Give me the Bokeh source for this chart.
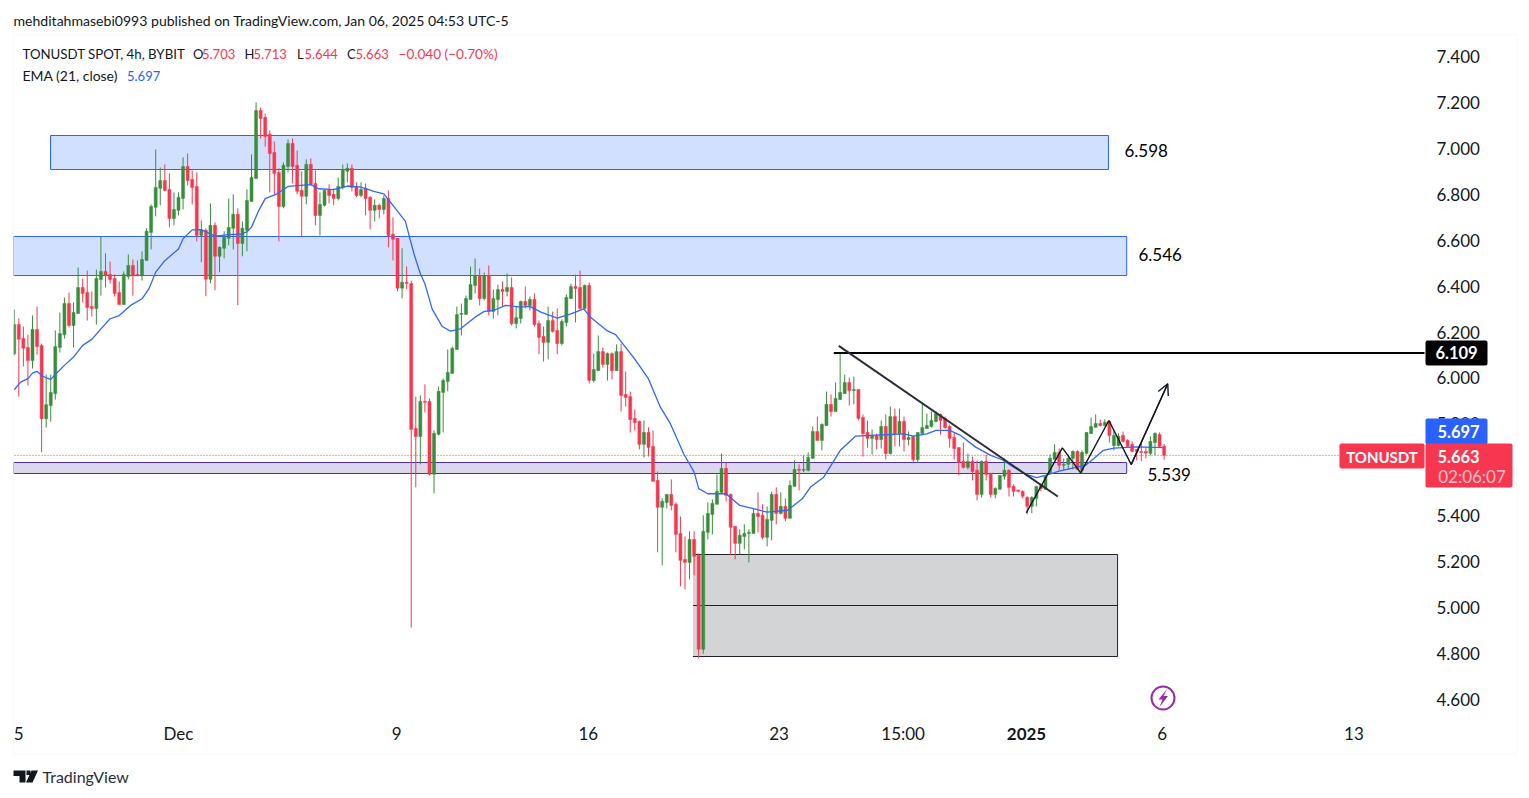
from bokeh.plotting import figure
from bokeh.models import (Range1d, FixedTicker, NumeralTickFormatter, Label, BoxAnnotation,
                          PolyAnnotation, Arrow, OpenHead, ColumnDataSource)
from bokeh.embed import file_html
from bokeh.resources import INLINE

opens = [6.106,6.233,6.172,6.133,6.076,6.211,6.141,5.823,5.880,5.932,
6.133,6.189,6.324,6.229,6.281,6.394,6.372,6.311,6.303,6.429,
6.464,6.451,6.433,6.372,6.320,6.442,6.490,6.451,6.445,6.512,
6.634,6.743,6.826,6.860,6.821,6.695,6.730,6.782,6.921,6.865,
6.834,6.621,6.643,6.430,6.665,6.530,6.565,6.608,6.652,6.713,
6.586,6.643,6.769,6.869,7.165,7.135,7.061,6.982,6.895,6.747,
6.921,7.021,6.926,6.817,6.791,6.930,6.847,6.708,6.752,6.821,
6.800,6.782,6.830,6.900,6.913,6.834,6.795,6.826,6.787,6.730,
6.752,6.734,6.782,6.626,6.608,6.391,6.417,6.411,5.780,5.745,
5.898,5.898,5.581,5.755,5.937,5.985,6.020,6.124,6.277,6.277,
6.342,6.403,6.446,6.346,6.446,6.290,6.342,6.385,6.377,6.394,
6.237,6.259,6.333,6.316,6.342,6.237,6.181,6.155,6.250,6.207,
6.150,6.242,6.346,6.398,6.394,6.303,6.403,5.989,6.032,6.115,
6.059,6.106,6.032,6.115,5.928,5.919,5.824,5.811,5.711,5.763,
5.702,5.554,5.437,5.458,5.493,5.450,5.323,5.210,5.197,5.297,
5.228,4.819,5.328,5.406,5.450,5.502,5.606,5.493,5.354,5.280,
5.310,5.323,5.323,5.410,5.402,5.306,5.380,5.493,5.410,5.441,
5.389,5.528,5.602,5.598,5.598,5.650,5.767,5.728,5.793,5.885,
5.854,5.906,5.932,5.980,5.945,5.950,5.828,5.763,5.737,5.750,
5.732,5.789,5.671,5.832,5.758,5.811,5.732,5.745,5.645,5.758,
5.780,5.789,5.811,5.841,5.824,5.789,5.741,5.697,5.637,5.611,
5.637,5.598,5.493,5.637,5.585,5.493,5.515,5.572,5.598,5.528,
5.511,5.506,5.480,5.441,5.476,5.533,5.515,5.585,5.646,5.676,
5.620,5.624,5.650,5.680,5.598,5.672,5.758,5.785,5.802,5.793,
5.811,5.706,5.706,5.750,5.728,5.711,5.689,5.680,5.680,5.672,
5.719,5.754,5.703]
highs = [6.298,6.259,6.224,6.189,6.272,6.311,6.150,6.015,6.015,6.207,
6.285,6.350,6.372,6.329,6.481,6.433,6.468,6.377,6.472,6.616,
6.542,6.507,6.451,6.420,6.464,6.538,6.516,6.512,6.551,6.652,
6.756,6.995,6.917,6.930,6.891,6.808,6.808,6.961,6.978,6.904,
6.895,6.686,6.652,6.760,6.678,6.573,6.639,6.782,6.800,6.739,
6.682,6.821,6.974,7.200,7.178,7.152,7.078,7.030,6.913,6.939,
7.039,7.043,6.991,6.900,6.952,6.956,6.904,6.808,6.821,6.843,
6.826,6.873,6.930,6.934,6.930,6.852,6.852,6.847,6.791,6.778,
6.760,6.795,6.817,6.699,6.608,6.565,6.486,6.424,5.919,5.924,
5.972,5.911,5.772,5.963,5.998,6.124,6.137,6.311,6.324,6.359,
6.485,6.520,6.477,6.459,6.490,6.385,6.407,6.420,6.455,6.438,
6.311,6.337,6.398,6.355,6.368,6.250,6.224,6.311,6.290,6.303,
6.255,6.364,6.411,6.451,6.468,6.407,6.416,6.106,6.185,6.133,
6.111,6.111,6.146,6.150,6.028,5.941,5.863,5.815,5.815,5.785,
5.772,5.593,5.476,5.493,5.558,5.458,5.397,5.310,5.332,5.332,
5.236,5.402,5.458,5.471,5.580,5.671,5.632,5.497,5.354,5.341,
5.363,5.341,5.432,5.502,5.450,5.441,5.506,5.524,5.502,5.476,
5.554,5.641,5.624,5.663,5.676,5.789,5.832,5.802,5.941,5.928,
5.980,6.111,6.015,6.002,6.006,5.950,5.841,5.815,5.776,5.758,
5.815,5.841,5.876,5.867,5.867,5.832,5.767,5.750,5.763,5.889,
5.845,5.854,5.854,5.845,5.832,5.797,5.763,5.697,5.719,5.671,
5.658,5.641,5.641,5.667,5.585,5.524,5.576,5.650,5.602,5.537,
5.515,5.511,5.485,5.485,5.528,5.533,5.572,5.667,5.711,5.693,
5.650,5.667,5.685,5.685,5.685,5.763,5.828,5.841,5.820,5.820,
5.815,5.772,5.759,5.767,5.733,5.724,5.689,5.715,5.698,5.746,
5.763,5.763,5.713]
lows = [6.098,5.919,6.050,5.967,6.041,6.102,5.677,5.784,5.810,5.906,
6.111,6.172,6.220,6.133,6.281,6.329,6.250,6.268,6.233,6.359,
6.394,6.411,6.355,6.320,6.320,6.429,6.359,6.445,6.424,6.512,
6.560,6.704,6.752,6.813,6.656,6.665,6.708,6.734,6.839,6.756,
6.595,6.504,6.356,6.412,6.382,6.460,6.521,6.578,6.560,6.317,
6.530,6.552,6.769,6.869,7.043,7.008,6.808,6.800,6.595,6.739,
6.895,6.847,6.800,6.613,6.756,6.843,6.665,6.621,6.747,6.760,
6.752,6.773,6.821,6.852,6.813,6.787,6.787,6.708,6.647,6.682,
6.695,6.713,6.569,6.512,6.378,6.347,6.386,4.913,5.524,5.624,
5.850,5.576,5.498,5.750,5.763,5.942,6.020,6.124,6.185,6.277,
6.342,6.368,6.316,6.338,6.272,6.259,6.272,6.311,6.355,6.229,
6.216,6.237,6.303,6.294,6.224,6.103,6.072,6.081,6.198,6.103,
6.142,6.224,6.346,6.242,6.298,6.294,5.976,5.980,6.032,6.045,
5.989,5.993,6.032,5.854,5.876,5.763,5.771,5.689,5.654,5.658,
5.550,5.241,5.184,5.432,5.424,5.241,5.093,5.080,5.123,5.141,
4.779,4.799,5.297,5.319,5.450,5.497,5.463,5.228,5.210,5.232,
5.254,5.197,5.323,5.328,5.297,5.267,5.293,5.363,5.406,5.376,
5.389,5.528,5.511,5.589,5.593,5.650,5.728,5.684,5.793,5.832,
5.854,5.906,5.932,5.880,5.885,5.815,5.658,5.697,5.667,5.689,
5.693,5.645,5.667,5.702,5.702,5.680,5.706,5.628,5.631,5.758,
5.780,5.784,5.806,5.754,5.780,5.697,5.645,5.576,5.606,5.602,
5.554,5.467,5.480,5.554,5.480,5.476,5.515,5.558,5.484,5.484,
5.502,5.476,5.406,5.411,5.441,5.506,5.515,5.585,5.646,5.598,
5.598,5.602,5.602,5.602,5.585,5.667,5.758,5.785,5.789,5.789,
5.719,5.685,5.702,5.719,5.702,5.680,5.641,5.637,5.650,5.663,
5.663,5.698,5.644]
closes = [6.233,6.169,6.130,6.076,6.211,6.137,5.823,5.884,5.937,6.137,
6.194,6.324,6.229,6.285,6.394,6.368,6.307,6.303,6.433,6.464,
6.445,6.429,6.368,6.320,6.451,6.490,6.445,6.445,6.516,6.639,
6.747,6.830,6.860,6.817,6.695,6.734,6.787,6.921,6.860,6.830,
6.621,6.643,6.430,6.665,6.530,6.569,6.613,6.656,6.713,6.586,
6.652,6.773,6.873,7.165,7.130,7.052,6.978,6.891,6.747,6.926,
7.021,6.921,6.813,6.791,6.930,6.843,6.708,6.756,6.817,6.795,
6.782,6.834,6.908,6.913,6.830,6.795,6.821,6.782,6.730,6.752,
6.734,6.782,6.621,6.604,6.391,6.417,6.412,5.776,5.745,5.898,
5.894,5.581,5.759,5.942,5.989,6.024,6.129,6.276,6.281,6.346,
6.407,6.446,6.346,6.446,6.290,6.346,6.385,6.377,6.394,6.237,
6.263,6.333,6.316,6.342,6.233,6.177,6.155,6.250,6.203,6.150,
6.246,6.351,6.398,6.390,6.303,6.403,5.990,6.037,6.115,6.059,
6.106,6.032,6.115,5.924,5.915,5.819,5.806,5.711,5.763,5.698,
5.550,5.437,5.463,5.493,5.445,5.319,5.206,5.197,5.297,5.223,
4.819,5.332,5.410,5.454,5.506,5.606,5.489,5.350,5.280,5.315,
5.323,5.328,5.410,5.397,5.306,5.384,5.493,5.410,5.441,5.389,
5.532,5.602,5.598,5.602,5.654,5.767,5.728,5.798,5.885,5.854,
5.911,5.937,5.980,5.945,5.950,5.824,5.758,5.737,5.750,5.732,
5.789,5.671,5.832,5.758,5.811,5.732,5.741,5.645,5.763,5.784,
5.793,5.815,5.845,5.815,5.784,5.737,5.693,5.632,5.611,5.637,
5.593,5.493,5.637,5.580,5.493,5.519,5.576,5.598,5.524,5.506,
5.506,5.485,5.441,5.480,5.528,5.519,5.572,5.650,5.676,5.620,
5.624,5.650,5.680,5.602,5.676,5.763,5.789,5.802,5.793,5.807,
5.750,5.750,5.746,5.724,5.702,5.680,5.680,5.676,5.673,5.724,
5.759,5.702,5.663]

ema_idx = [0,1.4,3,4,5,6,7,8,9,11,13,15,17,19,21,23,25.5,28,29.5,31,33,36,37,39,41,42,44,47,49.6,
51,52,53.6,55,57.6,60,62.7,65,66.7,70,73,76,78.8,81,83,85.7,87.6,89,90,91.6,93.8,95.6,97.8,
101,103,105,107.7,111,113,115.4,119,122,124.8,126.3,130,131.8,135.7,137,139,141.6,143.8,146.7,149,
150,152,156,159,162,165,169.5,172.7,174.5,177.4,181,184.4,187.7,192,195,197,200,202,205,207.4,210.7,
214,216.5,219,221.6,224,226,229,232.9,234.8,236.6,238.7,241,246,251.7]
ema_val = [5.949,5.982,5.997,6.021,6.029,6.011,6.001,5.994,6.015,6.055,6.091,6.142,6.168,6.214,6.258,6.272,6.316,6.345,6.388,6.461,6.511,6.562,6.606,6.645,6.646,6.636,6.618,6.624,6.626,
6.636,6.657,6.730,6.781,6.802,6.834,6.839,6.842,6.824,6.820,6.836,6.831,6.813,6.802,6.752,6.683,6.541,6.454,6.410,6.300,6.224,6.204,6.214,
6.265,6.290,6.294,6.316,6.309,6.312,6.287,6.261,6.279,6.301,6.265,6.205,6.189,6.090,6.054,5.996,5.873,5.801,5.670,5.590,
5.518,5.496,5.496,5.445,5.431,5.416,5.424,5.474,5.525,5.568,5.684,5.747,5.750,5.754,5.757,5.747,5.757,5.772,5.772,5.750,5.699,
5.663,5.644,5.612,5.581,5.566,5.576,5.594,5.612,5.620,5.649,5.685,5.695,5.700,5.697]

price_ticks = [4.6,4.8,5.0,5.2,5.4,5.6,5.8,6.0,6.2,6.4,6.6,6.8,7.0,7.2,7.4]
time_ticks = {1:"5",36:"Dec",83.8:"9",125.8:"16",167.6:"23",194.8:"15:00",222:"",251.6:"6",293.6:"13"}

# zones: left bar, right bar, bottom price, top price
zone_a = (7.95, 239.8, 6.9079, 7.0560)
zone_b = (-0.16, 243.8, 6.4463, 6.6162)
zone_p = (-0.16, 243.8, 5.5841, 5.6320)
zone_g = (148.75, 241.8, 4.7872, 5.2314)
gray_mid = 5.0093
res_level = 6.109
res_start = 179.6
down_x = [180.7, 228.7]
down_y = [6.140, 5.484]
zig_x = [221.8, 229.7, 233.7, 239.9, 244.8, 252.8]
zig_y = [5.413, 5.696, 5.587, 5.815, 5.623, 5.975]
last_price = 5.663
notes = [("6.598", 1124, 150), ("6.546", 1138, 254), ("5.539", 1147, 474)]

FONT = "Lato"
UP = "#388e3c"; DOWN = "#f7374f"; INK = "#131722"

X0, DX = 13.74, 4.563
P0, PY = 56.0, 229.64
W, H = 1522, 792
def ix(px): return (px - X0) / DX
def pr(py): return 7.4 - (py - P0) / PY

p = figure(width=W, height=H, output_backend="svg", toolbar_location=None,
           x_range=Range1d(ix(0), ix(W)), y_range=Range1d(pr(H), pr(0)),
           min_border_left=0, min_border_right=0, min_border_top=0, min_border_bottom=0,
           x_axis_location="below", y_axis_location="right")
p.outline_line_color = None
p.grid.visible = False
p.background_fill_color = "white"

ya = p.yaxis[0]
ya.ticker = FixedTicker(ticks=price_ticks)
ya.formatter = NumeralTickFormatter(format="0.000")
ya.fixed_location = ix(1419)
ya.axis_line_color = None
ya.major_tick_line_color = None
ya.minor_tick_line_color = None
ya.major_label_standoff = 11
ya.major_label_text_font = FONT
ya.major_label_text_font_size = "17px"
ya.major_label_text_color = INK

xa = p.xaxis[0]
xa.ticker = FixedTicker(ticks=list(time_ticks))
xa.major_label_overrides = time_ticks
xa.fixed_location = pr(710)
xa.axis_line_color = None
xa.major_tick_line_color = None
xa.minor_tick_line_color = None
xa.major_label_standoff = 6
xa.major_label_text_font = FONT
xa.major_label_text_font_size = "17px"
xa.major_label_text_color = INK

def zone(z, fill, line):
    p.quad(left=[z[0]], right=[z[1]], bottom=[z[2]], top=[z[3]], fill_color=fill, line_color=line, line_width=1)

zone(zone_a, "#d2e0ff", "#2962ff")
zone(zone_b, "#d2e0ff", "#2962ff")
zone(zone_p, "#dcd6ee", "#512da8")
p.quad(left=[zone_g[0]], right=[zone_g[1]], bottom=[zone_g[2]], top=[zone_g[3]], fill_color="#d3d4d6", line_color=None)
for lvl in (zone_g[2], gray_mid, zone_g[3]):
    p.line([zone_g[0], zone_g[1]], [lvl, lvl], line_color="#1f222b", line_width=1)
p.line([zone_g[1], zone_g[1]], [zone_g[2], zone_g[3]], line_color="#1f222b", line_width=1)

idx = list(range(len(opens)))
up = [i for i in idx if closes[i] >= opens[i]]
dn = [i for i in idx if closes[i] < opens[i]]
for ids, col in ((up, UP), (dn, DOWN)):
    src = ColumnDataSource(dict(x=ids, o=[opens[i] for i in ids], h=[highs[i] for i in ids],
                                l=[lows[i] for i in ids], c=[closes[i] for i in ids]))
    p.segment(x0="x", x1="x", y0="l", y1="h", source=src, line_color=col, line_width=1)
    p.vbar(x="x", width=0.66, bottom="o", top="c", source=src, fill_color=col, line_color=col, line_width=0.5)

p.line(ema_idx, ema_val, line_color="#2f67ff", line_width=1.3)

p.line([ix(14), ix(1339)], [last_price, last_price], line_color=DOWN, line_width=1, line_dash="1 2")

p.line([res_start, ix(1424)], [res_level, res_level], line_color="#000000", line_width=2)
p.line(down_x, down_y, line_color="#2a2e39", line_width=2)
p.line(zig_x, zig_y, line_color=INK, line_width=1.4)
p.add_layout(Arrow(end=OpenHead(size=11, line_color=INK, line_width=1.4), x_start=zig_x[-2], y_start=zig_y[-2],
                   x_end=zig_x[-1], y_end=zig_y[-1], line_color=INK, line_width=1.4))

def box(l, t, r, b, col, **kw):
    p.add_layout(BoxAnnotation(left=l, right=r, top=t, bottom=b, left_units="canvas", right_units="canvas",
                               top_units="canvas", bottom_units="canvas", fill_color=col, fill_alpha=1,
                               line_color=None, **kw))

def txt(s, x, y, size, col=INK, align="left", style="normal", alpha=1.0):
    p.add_layout(Label(x=x, y=y, x_units="canvas", y_units="canvas", text=s, text_font=FONT,
                       text_font_size=f"{size}px", text_color=col, text_align=align, text_baseline="middle",
                       text_font_style=style, text_alpha=alpha))

# left edge of the pane, then its frame
box(0, 30, 13, 760, "white")
p.add_layout(BoxAnnotation(left=13, right=1516, top=34, bottom=753.5, left_units="canvas", right_units="canvas",
                           top_units="canvas", bottom_units="canvas", fill_alpha=0, line_color="#f0f3fa", line_width=2))

# price tags
box(1425, 340, 1487, 365, "#000000", border_radius=2)
txt("6.109", 1456, 352, 16.5, "white", "center", "bold")
box(1425, 418, 1487, 444, "#2962ff", border_radius=2)
txt("5.697", 1458, 431, 16.5, "white", "center", "bold")
box(1339, 443, 1424, 468, DOWN, border_radius=2)
txt("TONUSDT", 1381.5, 456, 15, "white", "center", "bold")
box(1425, 443, 1512, 487, DOWN, border_radius=2)
txt("5.663", 1458, 456, 16.5, "white", "center", "bold")
txt("02:06:07", 1471.5, 476, 17, "white", "center", "normal", 0.7)

# annotations on the chart
for s, x, y in notes:
    txt(s, x, y, 17, "#000000")
txt("2025", 1026, 733.5, 17, INK, "center", "bold")

# header and legend
txt("mehditahmasebi0993 published on TradingView.com, Jan 06, 2025 04:53 UTC-5", 13, 20, 14.07)
txt("TONUSDT SPOT, 4h, BYBIT", 22, 53.5, 13.25)
for s, x, col, sz in [("O", 192.5, INK, 13), ("5.703", 201.5, DOWN, 13), ("H", 244, INK, 13), ("5.713", 253, DOWN, 13),
                      ("L", 296.5, INK, 13), ("5.644", 304, DOWN, 13), ("C", 346.5, INK, 13), ("5.663", 355, DOWN, 13),
                      ("\u22120.040 (\u22120.70%)", 398, DOWN, 13.6)]:
    txt(s, x, 53.5, sz, col)
txt("EMA (21, close)", 22, 75, 13.96)
txt("5.697", 126.5, 75, 13, "#2962ff")

# bolt marker
p.scatter([ix(1162.5)], [pr(697.5)], marker="circle", size=23, fill_color="white", line_color="#9c27b0", line_width=2)
bx = [1166.5, 1158, 1162, 1159, 1167.5, 1163]
by = [688.5, 699, 699, 706.5, 695.5, 695.5]
p.add_layout(PolyAnnotation(xs=bx, ys=by, xs_units="canvas", ys_units="canvas",
                            fill_color="#9c27b0", fill_alpha=1, line_color=None))

# footer logo
for xs, ys in [([13, 25, 25, 19, 19, 13], [770, 770, 782, 782, 775.5, 775.5]),
               ([31, 37.5, 32, 25.5], [770, 770, 782, 782]),
               ([26, 30, 30, 26], [770, 770, 774.5, 774.5])]:
    p.add_layout(PolyAnnotation(xs=xs, ys=ys, xs_units="canvas", ys_units="canvas",
                                fill_color=INK, fill_alpha=1, line_color=None))
txt("TradingView", 42, 776, 16, "#2a2e39")

open("out.html", "w").write(file_html(p, INLINE))
